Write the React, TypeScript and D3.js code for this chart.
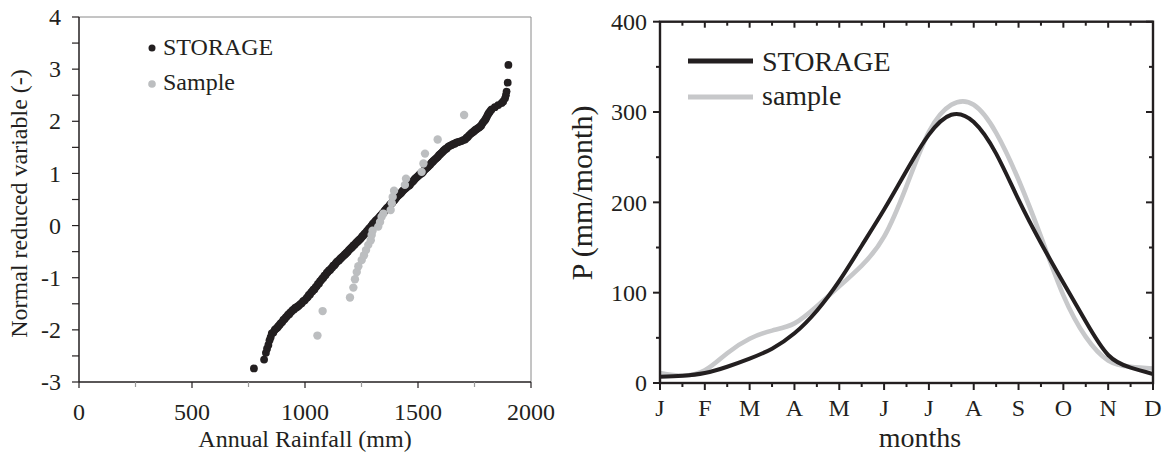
import React, { useEffect, useRef } from 'react';
import * as d3 from 'd3';

// left panel: normal probability plot of annual rainfall
const storagePts: [number, number][] = [
  [774, -2.74], [819, -2.57], [827, -2.44], [832, -2.36], [838, -2.29], [843, -2.2], [848, -2.14], [853, -2.07],
  [860, -2.05], [866, -2.0], [871, -1.98], [877, -1.96], [882, -1.93], [888, -1.9], [893, -1.87], [899, -1.85],
  [904, -1.81], [910, -1.79], [915, -1.76], [920, -1.74], [925, -1.71], [930, -1.7], [934, -1.67], [940, -1.65],
  [945, -1.62], [951, -1.61], [956, -1.58], [962, -1.57], [967, -1.55], [972, -1.54], [978, -1.51], [985, -1.49],
  [992, -1.45], [999, -1.43], [1007, -1.39], [1012, -1.37], [1017, -1.33], [1022, -1.32], [1027, -1.28], [1033, -1.26],
  [1037, -1.23], [1042, -1.22], [1047, -1.18], [1052, -1.16], [1057, -1.12], [1062, -1.11], [1066, -1.07], [1071, -1.05],
  [1076, -1.02], [1081, -1.0], [1086, -0.96], [1091, -0.95], [1096, -0.91], [1101, -0.89], [1106, -0.86], [1111, -0.85],
  [1116, -0.82], [1121, -0.8], [1125, -0.77], [1130, -0.76], [1135, -0.73], [1140, -0.7], [1145, -0.68], [1150, -0.67],
  [1155, -0.64], [1160, -0.62], [1165, -0.6], [1170, -0.58], [1175, -0.56], [1180, -0.54], [1184, -0.52], [1189, -0.5],
  [1194, -0.47], [1199, -0.45], [1204, -0.43], [1209, -0.41], [1214, -0.38], [1219, -0.37], [1224, -0.34], [1229, -0.32],
  [1234, -0.3], [1238, -0.28], [1243, -0.26], [1248, -0.24], [1253, -0.21], [1258, -0.19], [1263, -0.16], [1268, -0.14],
  [1273, -0.11], [1278, -0.09], [1283, -0.06], [1288, -0.04], [1293, -0.01], [1298, 0.02], [1302, 0.04], [1307, 0.06],
  [1312, 0.09], [1317, 0.11], [1322, 0.13], [1327, 0.15], [1332, 0.18], [1337, 0.2], [1342, 0.23], [1347, 0.25],
  [1352, 0.28], [1356, 0.3], [1361, 0.33], [1366, 0.35], [1371, 0.37], [1376, 0.4], [1381, 0.42], [1386, 0.44],
  [1391, 0.47], [1396, 0.49], [1401, 0.52], [1406, 0.55], [1411, 0.57], [1416, 0.59], [1421, 0.61], [1426, 0.63],
  [1431, 0.66], [1436, 0.68], [1441, 0.7], [1446, 0.72], [1451, 0.74], [1456, 0.76], [1461, 0.77], [1465, 0.79],
  [1470, 0.82], [1475, 0.84], [1480, 0.86], [1485, 0.89], [1490, 0.91], [1495, 0.93], [1500, 0.95], [1505, 0.97],
  [1510, 0.99], [1515, 1.0], [1520, 1.02], [1524, 1.04], [1529, 1.07], [1534, 1.09], [1539, 1.11], [1544, 1.13],
  [1549, 1.15], [1554, 1.17], [1559, 1.2], [1564, 1.22], [1568, 1.24], [1573, 1.26], [1578, 1.28], [1583, 1.3],
  [1588, 1.32], [1593, 1.35], [1598, 1.37], [1603, 1.39], [1608, 1.41], [1612, 1.43], [1617, 1.45], [1622, 1.47],
  [1627, 1.48], [1633, 1.51], [1640, 1.53], [1647, 1.54], [1655, 1.56], [1662, 1.57], [1669, 1.59], [1676, 1.6],
  [1684, 1.61], [1692, 1.62], [1700, 1.64], [1708, 1.65], [1714, 1.68], [1720, 1.7], [1726, 1.73], [1733, 1.76],
  [1739, 1.78], [1745, 1.8], [1750, 1.82], [1755, 1.84], [1760, 1.85], [1765, 1.87], [1770, 1.88], [1775, 1.9],
  [1780, 1.92], [1785, 1.96], [1790, 1.99], [1796, 2.02], [1800, 2.05], [1804, 2.08], [1808, 2.12], [1812, 2.15],
  [1817, 2.18], [1822, 2.21], [1826, 2.23], [1840, 2.27], [1855, 2.31], [1870, 2.35], [1877, 2.38], [1885, 2.44],
  [1889, 2.5], [1892, 2.57], [1897, 2.74], [1900, 3.08],
];

const samplePts: [number, number][] = [
  [1055, -2.11], [1078, -1.64], [1199, -1.38], [1214, -1.19], [1221, -1.03], [1229, -0.89], [1236, -0.78],
  [1251, -0.66], [1261, -0.57], [1270, -0.47], [1280, -0.37], [1291, -0.28], [1295, -0.18], [1299, -0.1],
  [1324, -0.02], [1332, 0.07], [1339, 0.17], [1347, 0.23], [1379, 0.3], [1384, 0.43], [1388, 0.55],
  [1394, 0.67], [1442, 0.78], [1447, 0.9], [1516, 1.03], [1524, 1.19], [1531, 1.38], [1587, 1.65], [1704, 2.12],
];

const rainTicks = [0, 500, 1000, 1500, 2000];
const rainMinor = [250, 750, 1250, 1750];
const zTicks = [-3, -2, -1, 0, 1, 2, 3, 4];
const zMinor = [-2.5, -1.5, -0.5, 0.5, 1.5, 2.5, 3.5];

// right panel: monthly precipitation regime (read every half month)
const monthPos = [0, 0.5, 1, 1.5, 2, 2.5, 3, 3.5, 4, 4.5, 5, 5.5, 6, 6.5, 7, 7.5, 8, 8.5, 9, 9.5, 10, 10.5, 11];
const storageP = [7, 8, 11, 18, 27, 38, 55, 80, 113, 152, 192, 235, 275, 297, 289, 254, 203, 155, 111, 68, 31, 17, 10];
const sampleP = [11, 8, 14, 33, 49, 58, 66, 85, 107, 130, 162, 218, 278, 308, 308, 277, 225, 162, 97, 51, 25, 18, 16];
const monthLabels = ['J', 'F', 'M', 'A', 'M', 'J', 'J', 'A', 'S', 'O', 'N', 'D'];
const pTicks = [0, 100, 200, 300, 400];
const pMinor = [50, 150, 250, 350];

const FONT = '"Liberation Serif", "Times New Roman", serif';
const INK = '#231f20';
const GREY_DOT = '#bcbec0';
const GREY_LINE = '#c7c8ca';

function App() {
  const svgRef = useRef<SVGSVGElement>(null);

  useEffect(() => {
    const svg = d3.select(svgRef.current);
    svg.selectAll('*').remove();
    svg.style('font-family', FONT);

    // ---------- left panel ----------
    const xL = d3.scaleLinear().domain([0, 2000]).range([79, 531]);
    const yL = d3.scaleLinear().domain([-3, 4]).range([382, 17]);
    const L = svg.append('g');

    // light frame on top/right
    L.append('line').attr('x1', xL(0)).attr('x2', xL(2000)).attr('y1', yL(4)).attr('y2', yL(4))
      .attr('stroke', '#8a8a8a').attr('stroke-width', 1);
    L.append('line').attr('x1', xL(2000)).attr('x2', xL(2000)).attr('y1', yL(4)).attr('y2', yL(-3))
      .attr('stroke', '#8a8a8a').attr('stroke-width', 1);

    // y axis
    L.append('line').attr('x1', xL(0)).attr('x2', xL(0)).attr('y1', yL(4)).attr('y2', yL(-3))
      .attr('stroke', INK).attr('stroke-width', 1.5);
    L.selectAll('.zt').data(zTicks.concat(zMinor)).enter().append('line')
      .attr('x1', xL(0) - 7).attr('x2', xL(0)).attr('y1', (d) => yL(d)).attr('y2', (d) => yL(d))
      .attr('stroke', INK).attr('stroke-width', 1.2);
    L.selectAll('.zl').data(zTicks).enter().append('text')
      .attr('x', 61).attr('y', (d) => yL(d)).attr('dy', '0.34em')
      .attr('text-anchor', 'end').attr('font-size', 24).attr('fill', INK)
      .text((d) => String(d));

    // x axis
    L.append('line').attr('x1', xL(0)).attr('x2', xL(2000)).attr('y1', yL(-3)).attr('y2', yL(-3))
      .attr('stroke', INK).attr('stroke-width', 1.5);
    L.selectAll('.rt').data(rainTicks).enter().append('line')
      .attr('x1', (d) => xL(d)).attr('x2', (d) => xL(d)).attr('y1', yL(-3)).attr('y2', yL(-3) + 6)
      .attr('stroke', INK).attr('stroke-width', 1.2);
    L.selectAll('.rm').data(rainMinor).enter().append('line')
      .attr('x1', (d) => xL(d)).attr('x2', (d) => xL(d)).attr('y1', yL(-3)).attr('y2', yL(-3) + 5)
      .attr('stroke', '#9a9a9a').attr('stroke-width', 1.2);
    L.selectAll('.rl').data(rainTicks).enter().append('text')
      .attr('x', (d) => xL(d)).attr('y', 420)
      .attr('text-anchor', 'middle').attr('font-size', 24).attr('fill', INK)
      .text((d) => String(d));

    L.append('text').attr('x', (xL(0) + xL(2000)) / 2).attr('y', 447)
      .attr('text-anchor', 'middle').attr('font-size', 24).attr('fill', INK)
      .text('Annual Rainfall (mm)');
    L.append('text').attr('transform', `translate(27,${(yL(4) + yL(-3)) / 2 + 4}) rotate(-90)`)
      .attr('text-anchor', 'middle').attr('font-size', 24).attr('fill', INK)
      .text('Normal reduced variable (-)');

    // points
    L.selectAll('.sd').data(storagePts).enter().append('circle')
      .attr('cx', (d) => xL(d[0])).attr('cy', (d) => yL(d[1])).attr('r', 3.9).attr('fill', INK);
    L.selectAll('.sp').data(samplePts).enter().append('circle')
      .attr('cx', (d) => xL(d[0])).attr('cy', (d) => yL(d[1])).attr('r', 4.2).attr('fill', GREY_DOT);

    // legend
    L.append('circle').attr('cx', 152).attr('cy', 48).attr('r', 3.5).attr('fill', INK);
    L.append('text').attr('x', 163).attr('y', 55).attr('font-size', 24).attr('fill', INK).text('STORAGE');
    L.append('circle').attr('cx', 152).attr('cy', 84).attr('r', 3.8).attr('fill', GREY_DOT);
    L.append('text').attr('x', 163).attr('y', 90).attr('font-size', 24).attr('fill', INK).text('Sample');

    // ---------- right panel ----------
    const xR = d3.scaleLinear().domain([0, 11]).range([660, 1153]);
    const yR = d3.scaleLinear().domain([0, 400]).range([383, 21.7]);
    const R = svg.append('g');

    const majorM = d3.range(monthLabels.length);
    const minorM = majorM.slice(0, -1).map((m) => m + 0.5);

    // ticks: left & bottom outward, top & right inward
    const tick = (x1: number, y1: number, x2: number, y2: number) =>
      R.append('line').attr('x1', x1).attr('y1', y1).attr('x2', x2).attr('y2', y2)
        .attr('stroke', INK).attr('stroke-width', 2);
    pTicks.forEach((v) => { tick(xR(0) - 7, yR(v), xR(0), yR(v)); tick(xR(11), yR(v), xR(11) - 7, yR(v)); });
    pMinor.forEach((v) => { tick(xR(0) - 4, yR(v), xR(0), yR(v)); tick(xR(11), yR(v), xR(11) - 4, yR(v)); });
    majorM.forEach((m) => { tick(xR(m), yR(0), xR(m), yR(0) + 7); tick(xR(m), yR(400), xR(m), yR(400) + 6); });
    minorM.forEach((m) => { tick(xR(m), yR(0), xR(m), yR(0) + 4); tick(xR(m), yR(400), xR(m), yR(400) + 4); });

    R.selectAll('.pl').data(pTicks).enter().append('text')
      .attr('x', 647).attr('y', (d) => yR(d)).attr('dy', '0.34em')
      .attr('text-anchor', 'end').attr('font-size', 24).attr('fill', INK)
      .text((d) => String(d));
    R.selectAll('.ml').data(monthLabels).enter().append('text')
      .attr('x', (_, i) => xR(i)).attr('y', 416)
      .attr('text-anchor', 'middle').attr('font-size', 24).attr('fill', INK)
      .text((d) => d);
    R.append('text').attr('x', 920).attr('y', 447)
      .attr('text-anchor', 'middle').attr('font-size', 28).attr('fill', INK).text('months');
    R.append('text').attr('transform', 'translate(592,193) rotate(-90)')
      .attr('text-anchor', 'middle').attr('font-size', 30).attr('fill', INK).text('P (mm/month)');

    const line = d3.line<number>()
      .x((_, i) => xR(monthPos[i]))
      .curve(d3.curveNatural);

    const clip = R.append('clipPath').attr('id', 'plotclip');
    clip.append('rect').attr('x', xR(0)).attr('y', yR(400)).attr('width', xR(11) - xR(0)).attr('height', yR(0) - yR(400));

    R.append('path').attr('clip-path', 'url(#plotclip)')
      .attr('d', line.y((d) => yR(d))(sampleP))
      .attr('fill', 'none').attr('stroke', GREY_LINE).attr('stroke-width', 4.6);
    R.append('path').attr('clip-path', 'url(#plotclip)')
      .attr('d', line.y((d) => yR(d))(storageP))
      .attr('fill', 'none').attr('stroke', INK).attr('stroke-width', 4);

    R.append('rect').attr('x', xR(0)).attr('y', yR(400)).attr('width', xR(11) - xR(0)).attr('height', yR(0) - yR(400))
      .attr('fill', 'none').attr('stroke', INK).attr('stroke-width', 2.4);

    // legend
    R.append('line').attr('x1', 688).attr('x2', 753).attr('y1', 61).attr('y2', 61).attr('stroke', INK).attr('stroke-width', 5);
    R.append('text').attr('x', 762).attr('y', 71).attr('font-size', 28).attr('fill', INK).text('STORAGE');
    R.append('line').attr('x1', 688).attr('x2', 753).attr('y1', 97).attr('y2', 97).attr('stroke', GREY_LINE).attr('stroke-width', 5);
    R.append('text').attr('x', 762).attr('y', 105).attr('font-size', 28).attr('fill', INK).text('sample');
  }, []);

  return (
    <svg ref={svgRef} width={1171} height={460}
      style={{ position: 'absolute', left: 0, top: 0, background: '#fff' }} />
  );
}

export default App;
